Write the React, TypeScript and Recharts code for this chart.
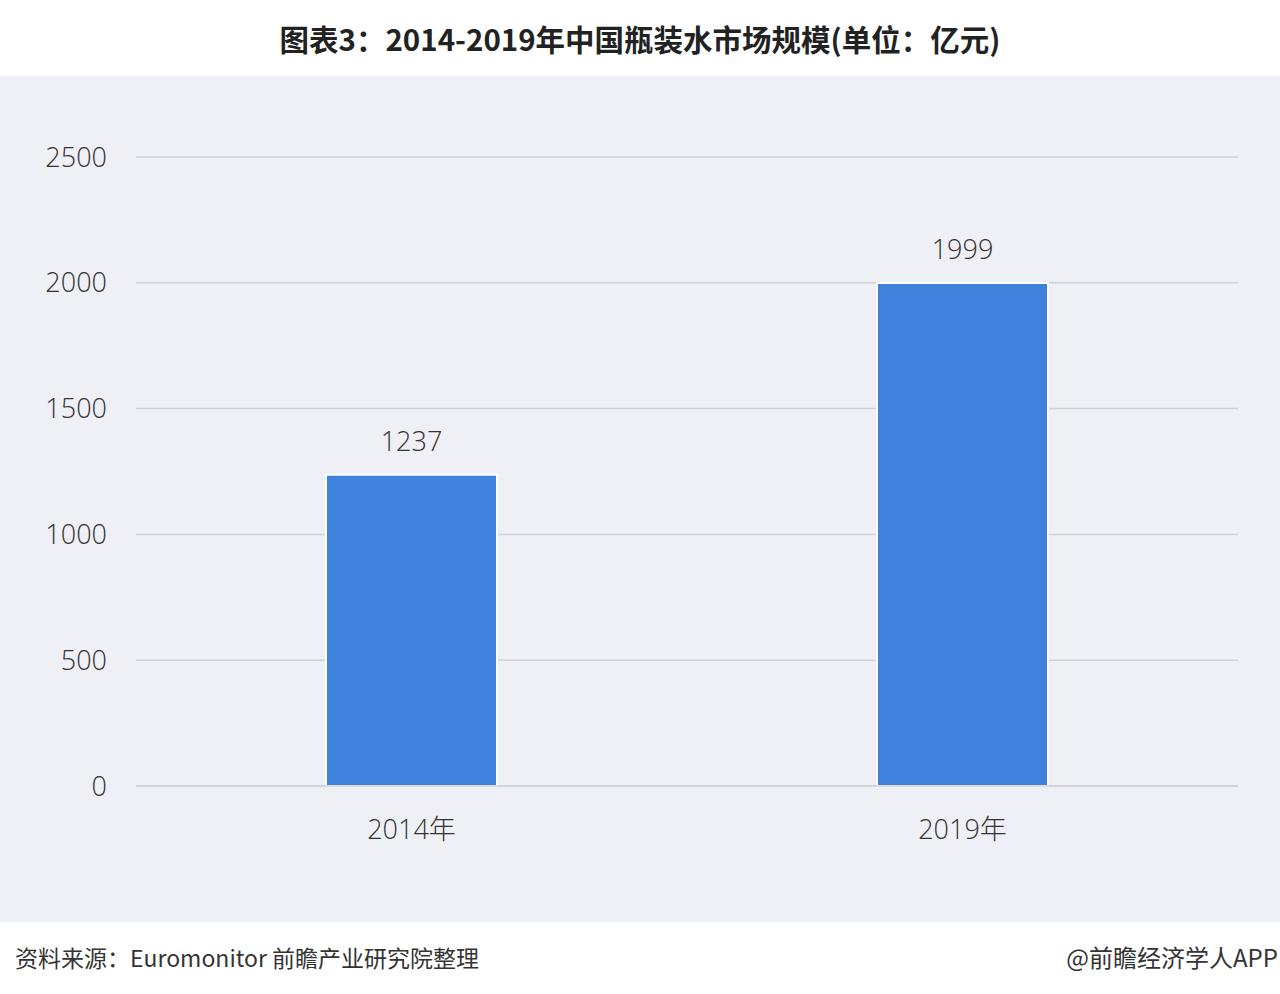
import React from 'react';
import { BarChart, Bar, XAxis, YAxis, CartesianGrid, LabelList } from 'recharts';

const categories = ['2014年', '2019年'];
const marketSize = [1237, 1999];
const yTicks = [0, 500, 1000, 1500, 2000, 2500];

const chartData = categories.map((year, i) => ({ year, value: marketSize[i] }));

const FONT = '"Noto Sans CJK SC", "Noto Sans", sans-serif';
const NUM_FONT = '"Open Sans", "Noto Sans CJK SC", sans-serif';

const tickStyle = { fill: '#333', fontSize: 27, fontFamily: NUM_FONT, fontWeight: 300 };

export default function App() {
  return (
    <div
      style={{
        position: 'absolute',
        left: 0,
        top: 0,
        width: 1280,
        height: 994,
        background: '#ffffff',
        fontFamily: FONT,
        overflow: 'hidden',
      }}
    >
      <div
        style={{
          position: 'absolute',
          top: 0,
          left: 0,
          width: 1280,
          height: 76,
          lineHeight: '76px',
          textAlign: 'center',
          fontSize: 29.5,
          fontWeight: 700,
          color: '#222',
        }}
      >
        图表3：2014-2019年中国瓶装水市场规模(单位：亿元)
      </div>

      <div style={{ position: 'absolute', top: 76, left: 0, width: 1280, height: 846, background: '#eef0f6' }}>
        <BarChart
          width={1280}
          height={846}
          data={chartData}
          margin={{ top: 81, right: 42, left: 0, bottom: 76 }}
        >
          <CartesianGrid vertical={false} stroke="#cfd1da" strokeWidth={1.5} />
          <XAxis
            dataKey="year"
            axisLine={{ stroke: '#cfd1da', strokeWidth: 1.5 }}
            tickLine={false}
            tickMargin={28}
            height={60}
            tick={tickStyle}
          />
          <YAxis
            domain={[0, 2500]}
            ticks={yTicks}
            width={136}
            axisLine={false}
            tickLine={false}
            tickMargin={23}
            tick={tickStyle}
          />
          <Bar dataKey="value" fill="#3f82de" stroke="#ffffff" strokeWidth={2} barSize={171} isAnimationActive={false}>
            <LabelList
              dataKey="value"
              position="top"
              offset={24}
              style={tickStyle}
            />
          </Bar>
        </BarChart>
      </div>

      <div
        style={{
          position: 'absolute',
          top: 940,
          left: 15,
          fontSize: 23,
          color: '#333',
          lineHeight: '34px',
        }}
      >
        资料来源：Euromonitor 前瞻产业研究院整理
      </div>
      <div
        style={{
          position: 'absolute',
          top: 940,
          right: 2,
          fontSize: 24,
          color: '#333',
          lineHeight: '34px',
        }}
      >
        @前瞻经济学人APP
      </div>
    </div>
  );
}
